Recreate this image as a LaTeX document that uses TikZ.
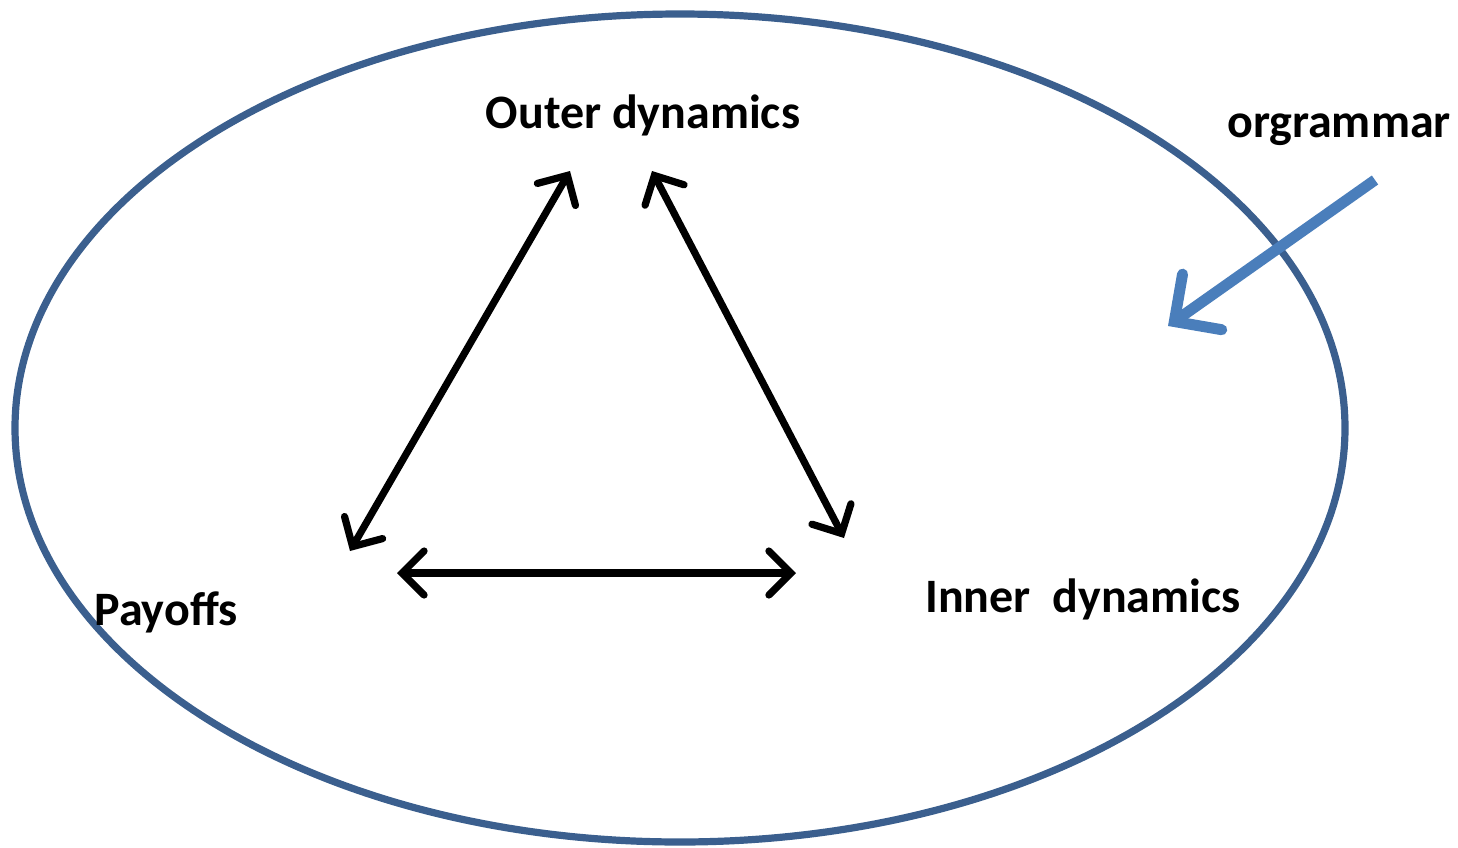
\documentclass[tikz,border=0pt]{standalone}
\usepackage{fontspec}
\setmainfont{Carlito}
\usetikzlibrary{arrows.meta}
\definecolor{ellcol}{HTML}{3B5F8E}
\definecolor{arrcol}{HTML}{4A7EBB}
\tikzset{
  lbl/.style={font=\bfseries\fontsize{24}{28}\selectfont, inner sep=0pt},
  dbl/.style={line width=3.6pt, line cap=round, black,
    {Straight Barb[length=11pt,width=22pt,line cap=round]}-{Straight Barb[length=11pt,width=22pt,line cap=round]}},
  bluearrow/.style={line width=5.5pt, arrcol,
    -{Straight Barb[length=17pt,width=34pt,line cap=round]}}
}
\begin{document}
\begin{tikzpicture}[x=0.5pt,y=-0.5pt]
\useasboundingbox (0,0) rectangle (1458,847);
\draw[ellcol, line width=3.6pt] (680,428) ellipse [x radius=665, y radius=414];
\node[lbl] (outer) at (643,115) {Outer dynamics};
\node[lbl] (inner) at (1083,599) {Inner\ \ dynamics};
\node[lbl] (pay) at (166,612) {Payoffs};
\node[lbl] (org) at (1339,130) {orgrammar};
\coordinate (o1) at (570,171);
\coordinate (p1) at (350,551);
\coordinate (o2) at (652,171);
\coordinate (i1) at (844,538);
\coordinate (p2) at (397,573);
\coordinate (i2) at (796,573);
\coordinate (bs) at (1375,180);
\coordinate (be) at (1168,326);
\draw[dbl] (o1) -- (p1);
\draw[dbl] (o2) -- (i1);
\draw[dbl] (p2) -- (i2);
\draw[bluearrow] (bs) -- (be);
\end{tikzpicture}
\end{document}
